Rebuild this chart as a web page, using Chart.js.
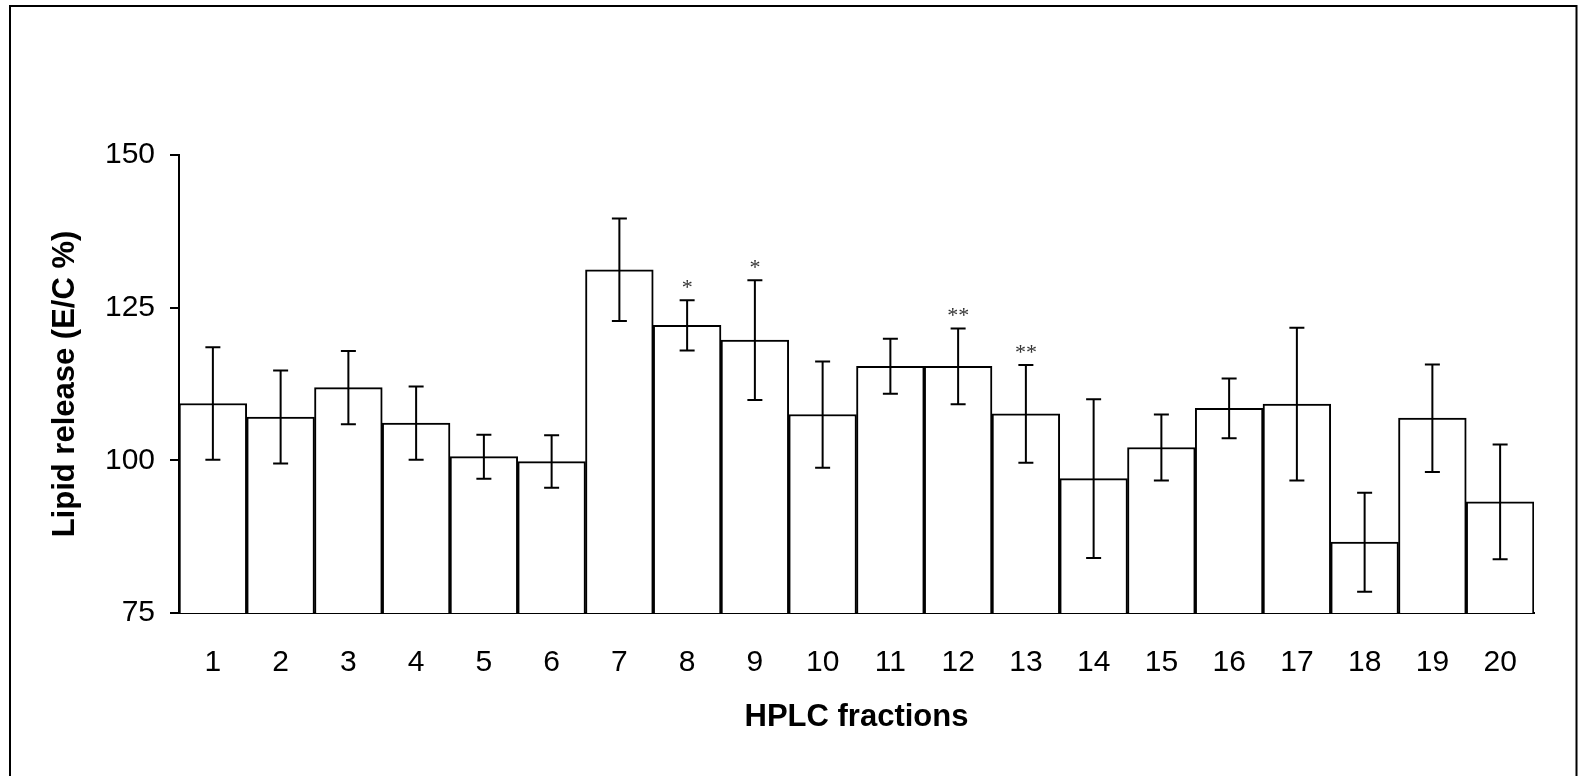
<!DOCTYPE html>
<html>
<head>
<meta charset="utf-8">
<script src="https://cdn.jsdelivr.net/npm/chart.js@4"></script>
<style>
    html, body { margin: 0; padding: 0; background: #fff; overflow: hidden; }
    #lipidChart { display: block; }
</style>
</head>
<body>
<canvas id="lipidChart" width="1578" height="776"></canvas>
<script>
// HPLC fractions vs lipid release (E/C %)
const fractions = ["1", "2", "3", "4", "5", "6", "7", "8", "9", "10",
    "11", "12", "13", "14", "15", "16", "17", "18", "19", "20"];
const lipidRelease = [109.3, 107.1, 111.9, 106.1, 100.6, 99.8, 131.2, 122.1, 119.7, 107.5,
    115.4, 115.4, 107.6, 97.0, 102.1, 108.5, 109.2, 86.6, 106.9, 93.2];
const errorSize = [9.2, 7.6, 6.0, 6.0, 3.6, 4.3, 8.4, 4.1, 9.8, 8.7,
    4.5, 6.2, 8.0, 13.0, 5.4, 4.9, 12.5, 8.1, 8.8, 9.4];
const significance = ["", "", "", "", "", "", "", "*", "*", "",
    "", "**", "**", "", "", "", "", "", "", ""];
const yTicks = [75, 100, 125, 150];

const axisFont = { family: "'Liberation Sans', Arial, sans-serif", size: 30 };
const titleFont = { family: "'Liberation Sans', Arial, sans-serif", size: 31, weight: "bold" };

const frameAndErrors = {
    id: "frameAndErrors",
    beforeDraw(chart) {
        const ctx = chart.ctx;
        ctx.save();
        ctx.fillStyle = "#fff";
        ctx.fillRect(0, 0, chart.width, chart.height);
        ctx.strokeStyle = "#000";
        ctx.lineWidth = 2;
        ctx.strokeRect(10, 6, 1566.5, 820);
        ctx.restore();
    },
    afterDatasetsDraw(chart) {
        const ctx = chart.ctx;
        const x = chart.scales.x;
        const y = chart.scales.y;
        ctx.save();
        ctx.strokeStyle = "#000";
        ctx.lineWidth = 2;
        lipidRelease.forEach((v, i) => {
            const cx = x.getPixelForValue(i);
            const top = y.getPixelForValue(v + errorSize[i]);
            const bottom = y.getPixelForValue(v - errorSize[i]);
            ctx.beginPath();
            ctx.moveTo(cx, top);
            ctx.lineTo(cx, bottom);
            ctx.moveTo(cx - 7.5, top);
            ctx.lineTo(cx + 7.5, top);
            ctx.moveTo(cx - 7.5, bottom);
            ctx.lineTo(cx + 7.5, bottom);
            ctx.stroke();
            if (significance[i]) {
                ctx.fillStyle = "#333";
                ctx.font = "22px 'Liberation Serif', 'Times New Roman', serif";
                ctx.textAlign = "center";
                ctx.textBaseline = "middle";
                ctx.fillText(significance[i], cx, top - 12);
            }
        });
        ctx.restore();
    },
};

new Chart(document.getElementById("lipidChart"), {
    type: "bar",
    data: {
        labels: fractions,
        datasets: [
            {
                label: "Lipid release",
                data: lipidRelease,
                backgroundColor: "#fff",
                borderColor: "#000",
                borderWidth: 2,
                barPercentage: 1,
                categoryPercentage: 1,
            },
        ],
    },
    options: {
        responsive: false,
        animation: false,
        devicePixelRatio: 1,
        layout: { padding: { left: 47, right: 44, top: 155, bottom: 40 } },
        plugins: { legend: { display: false }, tooltip: { enabled: false } },
        scales: {
            x: {
                grid: { display: false, drawTicks: false },
                border: { color: "#000", width: 2 },
                ticks: { color: "#000", font: axisFont, padding: 32, maxRotation: 0 },
                title: {
                    display: true,
                    text: "HPLC fractions",
                    color: "#000",
                    font: titleFont,
                    padding: { top: 0, bottom: 0 },
                },
                afterFit(scale) {
                    scale.height = 776 - 40 - 613;
                },
            },
            y: {
                min: 75,
                max: 150,
                afterBuildTicks(scale) {
                    scale.ticks = yTicks.map((v) => ({ value: v }));
                },
                grid: { drawOnChartArea: false, drawTicks: true, tickLength: 9, color: "#000", lineWidth: 2 },
                border: { color: "#000", width: 2 },
                ticks: { color: "#000", font: axisFont, padding: 15 },
                title: {
                    display: true,
                    text: "Lipid release (E/C %)",
                    color: "#000",
                    font: titleFont,
                    padding: { top: 0, bottom: 0 },
                },
                afterFit(scale) {
                    scale.width = 179 - 47;
                },
            },
        },
    },
    plugins: [frameAndErrors],
});
</script>
</body>
</html>
